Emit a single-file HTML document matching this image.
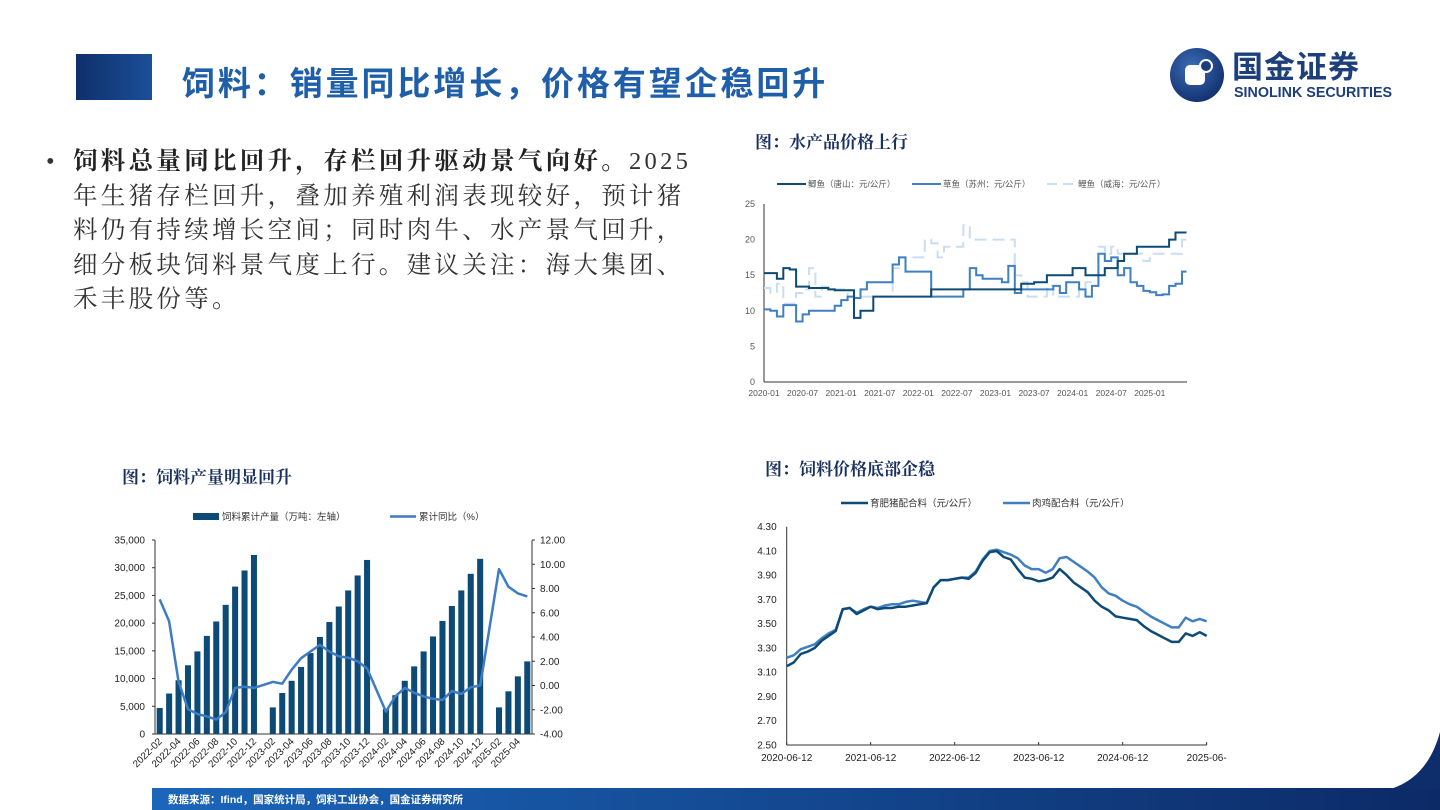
<!DOCTYPE html>
<html><head><meta charset="utf-8">
<style>
html,body{margin:0;padding:0;background:#fff;}
body{width:1440px;height:810px;position:relative;overflow:hidden;font-family:"Liberation Sans","Noto Sans CJK SC",sans-serif;}
.abs{position:absolute;}
#title{left:182px;top:57px;font-size:33px;letter-spacing:2.9px;font-weight:bold;color:#1f5faa;font-family:"Liberation Sans","Noto Sans CJK SC",sans-serif;white-space:nowrap;}
#bullet{left:46px;top:145px;width:700px;font-size:24.5px;line-height:34.5px;color:#333;font-family:"Liberation Serif","Noto Serif CJK SC",serif;}
#bullet .ln{white-space:nowrap;letter-spacing:3.3px;}
#bullet b{color:#222;}
.ctitle{font-size:17px;font-weight:bold;color:#1a3060;font-family:"Liberation Serif","Noto Serif CJK SC",serif;white-space:nowrap;}
svg text{font-family:"Liberation Sans","Noto Sans CJK SC",sans-serif;}
</style></head>
<body>
<div class="abs" style="left:76px;top:54px;width:76px;height:46px;background:linear-gradient(90deg,#0e2f6a,#1b4f99);"></div>
<div id="title" class="abs">饲料：销量同比增长，价格有望企稳回升</div>

<div class="abs" style="left:1170px;top:47px;width:270px;height:58px;">
  <svg width="270" height="58">
    <defs><radialGradient id="lg" cx="40%" cy="35%" r="70%"><stop offset="0" stop-color="#3a6cb5"/><stop offset="1" stop-color="#122f6e"/></radialGradient></defs>
    <circle cx="27" cy="28" r="27" fill="url(#lg)"/>
    <rect x="15" y="18" width="20" height="20" rx="5" fill="#fff"/>
    <circle cx="36" cy="19" r="6" fill="#1a3d80" stroke="#fff" stroke-width="2"/>
    <text x="62" y="31" font-size="31" font-weight="bold" fill="#1d3f7c" letter-spacing="1">国金证券</text>
    <text x="64" y="50" font-size="14.3" font-weight="bold" fill="#1d3f7c">SINOLINK SECURITIES</text>
  </svg>
</div>

<div id="bullet" class="abs">
<span style="position:absolute;left:0;top:0;">•</span>
<div style="margin-left:27px;">
<div class="ln"><b>饲料总量同比回升，存栏回升驱动景气向好。</b>2025</div>
<div class="ln">年生猪存栏回升，叠加养殖利润表现较好，预计猪</div>
<div class="ln">料仍有持续增长空间；同时肉牛、水产景气回升，</div>
<div class="ln">细分板块饲料景气度上行。建议关注：海大集团、</div>
<div class="ln">禾丰股份等。</div>
</div>
</div>

<div class="abs ctitle" style="left:755px;top:128px;">图：水产品价格上行</div>
<div class="abs ctitle" style="left:122px;top:463px;">图：饲料产量明显回升</div>
<div class="abs ctitle" style="left:765px;top:455px;">图：饲料价格底部企稳</div>

<svg id="charts" class="abs" style="left:0;top:0;" width="1440" height="810"></svg>

<svg class="abs" style="left:0;top:0;" width="1440" height="810">
  <defs><linearGradient id="fg" x1="0" x2="1"><stop offset="0" stop-color="#1b66bb"/><stop offset="1" stop-color="#0c2a66"/></linearGradient></defs>
  <rect x="152" y="788" width="1288" height="22" fill="url(#fg)"/>
  <path d="M1390,789 C1415,782 1432,762 1440,732 L1440,790 Z" fill="#0e2d6b"/>
  <text x="168" y="803" font-size="10.5" fill="#fff" font-weight="bold">数据来源：Ifind，国家统计局，饲料工业协会，国金证券研究所</text>
</svg>

<script>
// ===== Chart 1: feed output =====
const c1Cats = [];
for (let y = 2022; y <= 2025; y++) for (let m = 1; m <= 12; m++) {
  if (y === 2022 && m < 2) continue;
  if (y === 2025 && m > 5) continue;
  c1Cats.push(y + '-' + String(m).padStart(2, '0'));
}
const c1Bars = [4700,7300,9700,12400,14900,17700,20300,23300,26600,29500,32300,
  null,4800,7400,9600,12100,14600,17500,20200,23000,25900,28600,31400,
  null,4500,7000,9600,12200,14900,17600,20400,23100,25900,28900,31600,
  null,4800,7700,10400,13100];
const c1Yoy = [7.1,5.3,0.3,-1.95,-2.35,-2.55,-2.8,-2.2,-0.2,-0.1,-0.2,
  null,0.3,0.15,1.3,2.25,2.8,3.35,2.8,2.4,2.3,2.0,1.4,
  null,-2.15,-0.9,-0.2,-0.6,-0.9,-1.1,-1.2,-0.45,-0.7,-0.15,0.0,
  null,9.6,8.15,7.6,7.35];
const c1LeftTicks = [0,5000,10000,15000,20000,25000,30000,35000];
const c1RightTicks = [-4,-2,0,2,4,6,8,10,12];

// ===== Chart 2: fish prices (monthly from 2020-01) =====
const c2XTicks = ['2020-01','2020-07','2021-01','2021-07','2022-01','2022-07','2023-01','2023-07','2024-01','2024-07','2025-01'];
const c2YTicks = [0,5,10,15,20,25];
const fishCrucian = [15.3,15.3,14.5,16,15.8,13.4,13.4,13.2,13.2,13.2,13.0,12.9,12.9,12.9,9,10,10,12,12,12,12,12,12,12,12,12,13,13,13,13,13,13,13,13,13,13,13,13,13,13,13.8,13.8,14,14,15,15,15,15,16,16,15,15,15,16,16,17,18,18,19,19,19,19,19,20,21,21];
const fishGrass = [10.2,10,9.2,10.8,10.8,8.5,9.5,10,10,10,10,10.7,11.5,12,11.8,13,14,14,14,14,16.5,17.5,15.5,15.5,15.5,15.5,12,12,12,12,12,13,16,15,14.5,14.5,14.5,14,16.3,12.5,13,13,13,13,13,13.5,12.5,14,14,13,12,13.5,18,17,17.5,15,16,14,13.5,12.8,12.6,12.2,12.3,13.5,13.8,15.5];
const fishCarp = [13.2,12.5,13.8,11,11,12.5,13,16,12,13.4,13,13,13,12,12,12,12,12,12,12,16,17.5,17.5,17.5,17.5,20,19.5,17.5,19,19,19,22,20,20,20,20,20,20,20,15,14,12,12,12,13.5,12,12,12,12,13,14,15,19,18,19,18,18,18,18,17,18,18,18,18,18,20];

// ===== Chart 3: feed prices (monthly from 2020-06) =====
const c3XTicks = ['2020-06-12','2021-06-12','2022-06-12','2023-06-12','2024-06-12','2025-06-'];
const c3YTicks = [2.5,2.7,2.9,3.1,3.3,3.5,3.7,3.9,4.1,4.3];
const feedPig = [3.15,3.18,3.25,3.27,3.30,3.36,3.40,3.44,3.62,3.63,3.58,3.61,3.64,3.62,3.63,3.63,3.64,3.64,3.65,3.66,3.67,3.80,3.86,3.86,3.87,3.88,3.87,3.92,4.02,4.09,4.10,4.05,4.03,3.95,3.88,3.87,3.85,3.86,3.88,3.95,3.90,3.84,3.80,3.76,3.69,3.64,3.61,3.56,3.55,3.54,3.53,3.48,3.44,3.41,3.38,3.35,3.35,3.42,3.40,3.43,3.40];
const feedChicken = [3.22,3.24,3.29,3.31,3.33,3.38,3.42,3.45,3.62,3.63,3.59,3.62,3.64,3.63,3.65,3.66,3.66,3.68,3.69,3.68,3.67,3.80,3.86,3.86,3.87,3.88,3.88,3.93,4.03,4.10,4.11,4.09,4.07,4.04,3.98,3.95,3.95,3.92,3.95,4.04,4.05,4.01,3.97,3.93,3.88,3.80,3.75,3.73,3.69,3.66,3.64,3.60,3.56,3.53,3.50,3.47,3.47,3.55,3.52,3.54,3.52];

const NS = 'http://www.w3.org/2000/svg';
const svg = document.getElementById('charts');
function mk(tag, attrs, parent, text) {
  const e = document.createElementNS(NS, tag);
  for (const k in attrs) e.setAttribute(k, attrs[k]);
  if (text !== undefined) e.textContent = text;
  (parent || svg).appendChild(e);
  return e;
}

// ---------- Chart 1 ----------
(function(){
  const g = mk('g', {}); 
  
  
  const L = 155, R = 532, T = 540, B = 734;
  const n = c1Cats.length, slot = (R - L) / n;
  const yL = v => B - (v / 35000) * (B - T);
  const yR = v => B - ((v + 4) / 16) * (B - T);
  const xC = i => L + slot * (i + 0.5);
  mk('line', {x1:L,y1:T,x2:L,y2:B,stroke:'#333','stroke-width':1}, g);
  mk('line', {x1:R,y1:T,x2:R,y2:B,stroke:'#333','stroke-width':1}, g);
  mk('line', {x1:L,y1:B,x2:R,y2:B,stroke:'#333','stroke-width':1}, g);
  c1LeftTicks.forEach(v => {
    const t = mk('text', {x:L-10,y:yL(v)+3.5,'font-size':10,'text-anchor':'end',fill:'#222'}, g, v.toLocaleString('en-US'));
    
    
    mk('line', {x1:L-3,y1:yL(v),x2:L,y2:yL(v),stroke:'#333'}, g);
  });
  c1RightTicks.forEach(v => {
    const t = mk('text', {x:R+8,y:yR(v)+3.5,'font-size':10,fill:'#222'}, g, v.toFixed(2));
    
    
    mk('line', {x1:R,y1:yR(v),x2:R+3,y2:yR(v),stroke:'#333'}, g);
  });
  c1Bars.forEach((v, i) => {
    if (v == null) return;
    const r = mk('rect', {x:xC(i)-slot*0.32,y:yL(v),width:slot*0.64,height:B-yL(v),fill:'#0d4a75'}, g);
    
    
  });
  const pts = [];
  c1Yoy.forEach((v, i) => { if (v != null) pts.push(xC(i).toFixed(1) + ',' + yR(v).toFixed(1)); });
  const pl = mk('polyline', {points:pts.join(' '),fill:'none',stroke:'#3d7cc4','stroke-width':2.5,'stroke-linejoin':'round'}, g);
  
  
  c1Cats.forEach((c, i) => {
    if (i % 2 !== 0) return;
    const x = xC(i), y = B + 8;
    const t = mk('text', {x:x+3,y:y,'font-size':10,'text-anchor':'end',fill:'#222',transform:`rotate(-45 ${x+3} ${y})`}, g, c);
    
    
  });
  const lg = mk('g', {}, g);
  
  
  mk('rect', {x:193,y:513,width:26,height:7,fill:'#0d4a75'}, lg);
  mk('text', {x:222,y:520,'font-size':9.5,fill:'#333'}, lg, '饲料累计产量（万吨：左轴）');
  mk('line', {x1:390,y1:516.5,x2:416,y2:516.5,stroke:'#3d7cc4','stroke-width':2.5}, lg);
  mk('text', {x:419,y:520,'font-size':9.5,fill:'#333'}, lg, '累计同比（%）');
})();

// ---------- Chart 2 ----------
(function(){
  const g = mk('g', {});
  
  
  const L = 764, R = 1187, T = 204, B = 382, perM = 6.43;
  const x = m => L + m * perM;
  const y = v => B - (v / 25) * (B - T);
  mk('line', {x1:L,y1:T,x2:L,y2:B,stroke:'#333'}, g);
  mk('line', {x1:L,y1:B,x2:R,y2:B,stroke:'#333'}, g);
  c2YTicks.forEach(v => {
    const t = mk('text', {x:L-9,y:y(v)+3,'font-size':9,'text-anchor':'end',fill:'#555'}, g, String(v));
    
    
  });
  c2XTicks.forEach((lab, i) => {
    const t = mk('text', {x:x(i*6),y:B+14,'font-size':8.5,'text-anchor':'middle',fill:'#555'}, g, lab);
    
    
  });
  function step(arr) {
    let d = '';
    arr.forEach((v, i) => {
      d += (i === 0 ? 'M' : 'L') + x(i).toFixed(1) + ',' + y(v).toFixed(1) + ' L' + x(i+1 > 65.7 ? 65.7 : i+1).toFixed(1) + ',' + y(v).toFixed(1) + ' ';
    });
    return d;
  }
  const s3 = mk('path', {d:step(fishCarp),fill:'none',stroke:'#c9def2','stroke-width':2,'stroke-dasharray':'12,6'}, g);
  
  
  const s2 = mk('path', {d:step(fishGrass),fill:'none',stroke:'#3f7fc2','stroke-width':2}, g);
  
  
  const s1 = mk('path', {d:step(fishCrucian),fill:'none',stroke:'#0d4a75','stroke-width':2}, g);
  
  
  const lg = mk('g', {}, g);
  
  
  mk('line', {x1:777,y1:184,x2:806,y2:184,stroke:'#0d4a75','stroke-width':2}, lg);
  mk('text', {x:808,y:187,'font-size':8.5,fill:'#555'}, lg, '鲫鱼（唐山：元/公斤）');
  mk('line', {x1:912,y1:184,x2:941,y2:184,stroke:'#3f7fc2','stroke-width':2}, lg);
  mk('text', {x:943,y:187,'font-size':8.5,fill:'#555'}, lg, '草鱼（苏州：元/公斤）');
  mk('line', {x1:1047,y1:184,x2:1076,y2:184,stroke:'#c9def2','stroke-width':2,'stroke-dasharray':'10,6'}, lg);
  mk('text', {x:1078,y:187,'font-size':8.5,fill:'#555'}, lg, '鲤鱼（威海：元/公斤）');
})();

// ---------- Chart 3 ----------
(function(){
  const g = mk('g', {});
  
  
  const L = 786.7, R = 1206.7, T = 526.7, B = 745;
  const n = feedPig.length - 1;
  const x = i => L + (R - L) * i / n;
  const y = v => B - ((v - 2.5) / 1.8) * (B - T);
  mk('line', {x1:L,y1:T,x2:L,y2:B,stroke:'#333'}, g);
  mk('line', {x1:L,y1:B,x2:R,y2:B,stroke:'#333'}, g);
  c3YTicks.forEach(v => {
    const t = mk('text', {x:L-10,y:y(v)+3.5,'font-size':10,'text-anchor':'end',fill:'#222'}, g, v.toFixed(2));
    
    
  });
  c3XTicks.forEach((lab, i) => {
    const xx = L + (R - L) * i / (c3XTicks.length - 1);
    mk('line', {x1:xx,y1:B,x2:xx,y2:B-3,stroke:'#333'}, g);
    const t = mk('text', {x:xx,y:B+16,'font-size':10,'text-anchor':'middle',fill:'#222'}, g, lab);
    
    
  });
  const line = arr => arr.map((v, i) => x(i).toFixed(1) + ',' + y(v).toFixed(1)).join(' ');
  const l2 = mk('polyline', {points:line(feedChicken),fill:'none',stroke:'#3f7fc2','stroke-width':2.5,'stroke-linejoin':'round'}, g);
  
  
  const l1 = mk('polyline', {points:line(feedPig),fill:'none',stroke:'#0d4a75','stroke-width':2.5,'stroke-linejoin':'round'}, g);
  
  
  const lg = mk('g', {}, g);
  
  
  mk('line', {x1:841,y1:503,x2:868,y2:503,stroke:'#0d4a75','stroke-width':2.5}, lg);
  mk('text', {x:870,y:506.5,'font-size':9.5,fill:'#333'}, lg, '育肥猪配合料（元/公斤）');
  mk('line', {x1:1003,y1:503,x2:1030,y2:503,stroke:'#3f7fc2','stroke-width':2.5}, lg);
  mk('text', {x:1032,y:506.5,'font-size':9.5,fill:'#333'}, lg, '肉鸡配合料（元/公斤）');
})();
</script>
</body></html>
